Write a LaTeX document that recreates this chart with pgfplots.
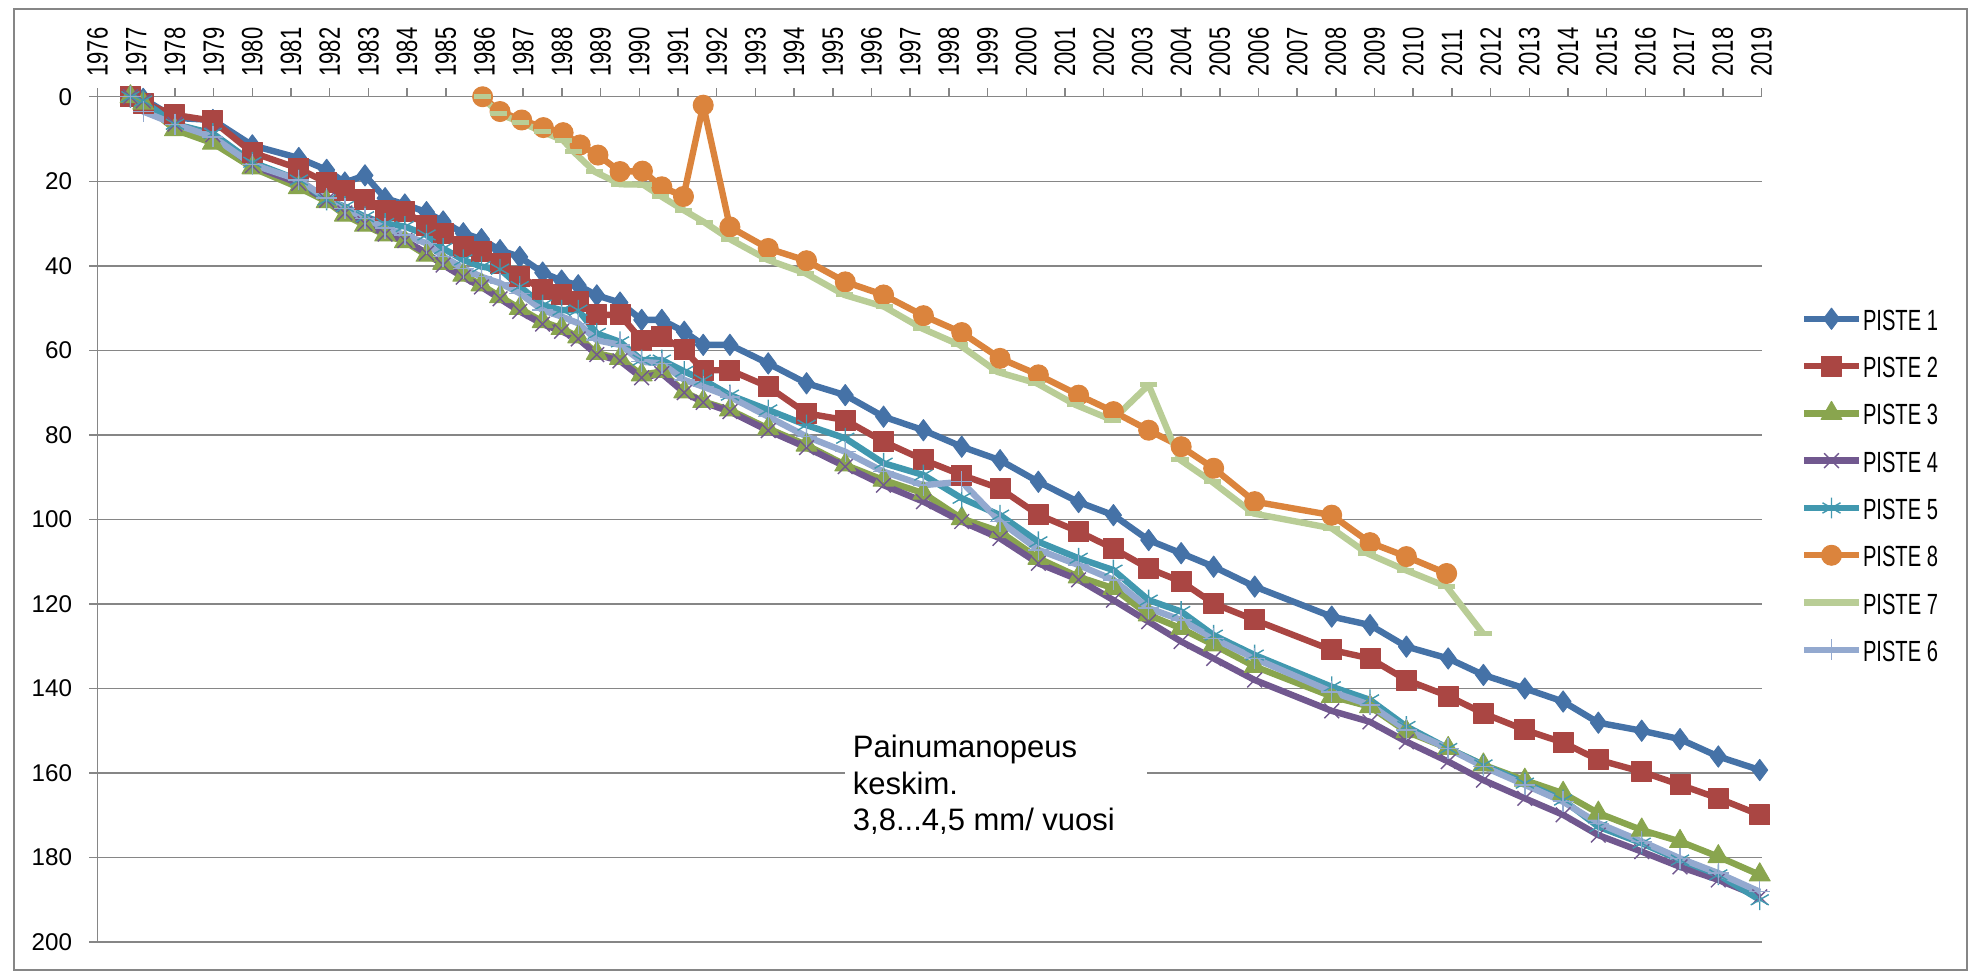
\documentclass[border=0pt]{standalone}
\usepackage{fontspec}
\setmainfont{Liberation Sans}
\newfontfamily\narrowfont{Liberation Sans}[FakeStretch=0.75]
\newfontfamily\legfont{Liberation Sans}[FakeStretch=0.69]
\usepackage{pgfplots}
\usepackage{pgfplotstable}
\pgfplotsset{compat=1.18}
\definecolor{cA}{HTML}{4572A7}
\definecolor{cB}{HTML}{AA4643}
\definecolor{cC}{HTML}{89A54E}
\definecolor{cD}{HTML}{71588F}
\definecolor{cE}{HTML}{4198AF}
\definecolor{cH}{HTML}{DB843D}
\definecolor{cG}{HTML}{B9CD96}
\definecolor{cF}{HTML}{93A9CF}
\definecolor{gridgray}{HTML}{868686}

\pgfplotstableread{
x y
1976.85 0
1977.18 0.5
1978.00 5
1978.98 5.5
1980.00 11.5
1981.20 14.5
1981.92 17.3
1982.39 20.3
1982.91 18.6
1983.43 24
1983.94 25.5
1984.50 27.3
1984.93 29.5
1985.45 32.3
1985.92 33.7
1986.40 36.3
1986.91 37.9
1987.50 41.6
1987.99 43.5
1988.42 44.6
1988.90 47
1989.50 48.7
1990.06 52.8
1990.58 52.8
1991.16 55.6
1991.65 58.7
1992.34 58.7
1993.33 63.1
1994.32 67.8
1995.32 70.6
1996.31 75.7
1997.34 78.9
1998.33 82.8
1999.32 86.0
2000.31 91.1
2001.35 95.9
2002.25 99.0
2003.16 104.9
2004.00 108.0
2004.84 111.2
2005.90 115.9
2007.89 123.0
2008.88 125.0
2009.82 130.1
2010.90 132.9
2011.81 136.8
2012.88 140.0
2013.87 143.1
2014.78 148.1
2015.90 150.0
2016.89 152.0
2017.88 156.1
2018.95 159.3
}\pisteA

\pgfplotstableread{
x y
1976.85 0
1977.18 1.5
1978.00 4.3
1978.98 5.7
1980.00 13.2
1981.20 17
1981.92 20.3
1982.39 22.3
1982.91 24.4
1983.43 27
1983.94 27.2
1984.50 30.4
1984.93 32.3
1985.45 35.5
1985.92 36.7
1986.40 39.4
1986.91 42.6
1987.50 45.5
1987.99 46.9
1988.42 48.5
1988.90 51.6
1989.50 51.6
1990.06 57.6
1990.58 56.8
1991.16 59.9
1991.65 64.7
1992.34 64.7
1993.33 68.6
1994.32 74.9
1995.32 76.5
1996.31 81.6
1997.34 85.9
1998.33 89.5
1999.32 92.7
2000.31 98.9
2001.35 102.9
2002.25 106.9
2003.16 111.6
2004.00 114.7
2004.84 119.9
2005.90 123.8
2007.89 130.9
2008.88 132.9
2009.82 138.0
2010.90 141.8
2011.81 145.9
2012.88 149.8
2013.87 152.8
2014.78 156.9
2015.90 159.7
2016.89 162.8
2017.88 166.0
2018.95 169.9
}\pisteB

\pgfplotstableread{
x y
1976.85 0
1977.18 1.5
1978.00 7.8
1978.98 11
1980.00 16.8
1981.20 21.5
1981.92 24.8
1982.39 28
1982.91 30.4
1983.43 32.7
1983.94 34.3
1984.50 37.5
1984.93 39.4
1985.45 42.2
1985.92 44.5
1986.40 47.3
1986.91 50.1
1987.50 53.2
1987.99 54.8
1988.42 56.8
1988.90 60.7
1989.50 61.9
1990.06 65.8
1990.58 65.0
1991.16 69.8
1991.65 72.1
1992.34 74.1
1993.33 78.5
1994.32 82.4
1995.32 87.1
1996.31 90.7
1997.34 93.8
1998.33 99.8
1999.32 102.9
2000.31 109.2
2001.35 113.6
2002.25 116.3
2003.16 122.6
2004.00 125.8
2004.84 129.7
2005.90 134.8
2007.89 141.9
2008.88 144.3
2009.82 150.2
2010.90 154.2
2011.81 158.1
2012.88 161.7
2013.87 164.8
2014.78 169.5
2015.90 173.5
2016.89 176.2
2017.88 179.8
2018.95 184.1
}\pisteC

\pgfplotstableread{
x y
1976.85 0
1977.18 1
1978.00 6.5
1978.98 9
1980.00 16.3
1981.20 20.5
1981.92 24.5
1982.39 27.5
1982.91 30
1983.43 32.5
1983.94 34
1984.50 37
1984.93 39.8
1985.45 42.7
1985.92 45
1986.40 47.8
1986.91 50.8
1987.50 53.8
1987.99 55.5
1988.42 57.3
1988.90 61
1989.50 62.5
1990.06 66.5
1990.58 65.5
1991.16 70
1991.65 72.3
1992.34 74.5
1993.33 79
1994.32 83
1995.32 87.5
1996.31 91.9
1997.34 95.8
1998.33 100.5
1999.32 104.5
2000.31 110.4
2001.35 114.3
2002.25 119.1
2003.16 124.2
2004.00 128.9
2004.84 132.9
2005.90 138.0
2007.89 145.3
2008.88 147.9
2009.82 152.6
2010.90 157.3
2011.81 161.7
2012.88 166.0
2013.87 169.9
2014.78 174.7
2015.90 178.6
2016.89 182.2
2017.88 185.3
2018.95 189.3
}\pisteD

\pgfplotstableread{
x y
1976.85 0
1977.18 1
1978.00 6.5
1978.98 8.7
1980.00 15.5
1981.20 19.7
1981.92 24.4
1982.39 26.0
1982.91 28.4
1983.43 30.0
1983.94 30.7
1984.50 32.7
1984.93 35.9
1985.45 38.6
1985.92 40.2
1986.40 40.8
1986.91 44.9
1987.50 49.3
1987.99 50.5
1988.42 50.5
1988.90 56
1989.50 58
1990.06 62.3
1990.58 62.3
1991.16 65.0
1991.65 67.0
1992.34 70.6
1993.33 74.1
1994.32 77.7
1995.32 80.8
1996.31 86.7
1997.34 89.5
1998.33 95.0
1999.32 99.0
2000.31 105.3
2001.35 109.2
2002.25 112.0
2003.16 119.1
2004.00 121.8
2004.84 127.4
2005.90 132.1
2007.89 139.6
2008.88 142.7
2009.82 149.0
2010.90 154.2
2011.81 158.1
2012.88 162.4
2013.87 166.4
2014.78 172.7
2015.90 176.6
2016.89 180.6
2017.88 184.1
2018.95 190.0
}\pisteE

\pgfplotstableread{
x y
1976.85 0
1977.18 3.5
1978.00 6.5
1978.98 9.5
1980.00 16
1981.20 19.7
1981.92 24.0
1982.39 26.4
1982.91 28.8
1983.43 31.1
1983.94 32.7
1984.50 34.7
1984.93 37.8
1985.45 40.6
1985.92 42.6
1986.40 44.1
1986.91 46.5
1987.50 50.5
1987.99 52.0
1988.42 53.6
1988.90 57.6
1989.50 58.7
1990.06 62.7
1990.58 63.1
1991.16 67.0
1991.65 68.6
1992.34 71.0
1993.33 75.7
1994.32 80.4
1995.32 84.0
1996.31 88.7
1997.34 91.9
1998.33 91.1
1999.32 100.5
2000.31 107.2
2001.35 110.8
2002.25 114.3
2003.16 121.0
2004.00 123.8
2004.84 128.2
2005.90 132.9
2007.89 140.8
2008.88 143.9
2009.82 149.8
2010.90 154.2
2011.81 158.5
2012.88 162.8
2013.87 166.8
2014.78 171.9
2015.90 176.2
2016.89 180.2
2017.88 183.7
2018.95 188.1
}\pisteF

\pgfplotstableread{
x y
1985.95 0
1986.35 4
1986.93 6
1987.50 8.3
1988.03 10.3
1988.30 13
1988.84 17.7
1989.50 20.7
1990.10 20.8
1990.55 23.5
1991.14 26.8
1991.68 29.7
1992.34 33.7
1993.32 38.6
1994.30 41.8
1995.30 46.9
1996.33 49.7
1997.30 54.8
1998.27 58.7
1999.25 65.1
2000.27 67.8
2001.27 72.9
2002.22 76.5
2003.16 68.2
2003.97 85.9
2004.80 91.1
2005.87 98.6
2007.89 102.1
2008.80 108.0
2009.80 112.0
2010.86 115.9
2011.80 127.0
}\pisteG

\pgfplotstableread{
x y
1985.95 0
1986.40 3.5
1986.96 5.5
1987.52 7.3
1988.03 8.5
1988.47 11.4
1988.93 13.8
1989.50 17.7
1990.08 17.6
1990.58 21.3
1991.14 23.6
1991.65 2.0
1992.34 30.8
1993.33 35.9
1994.32 38.8
1995.32 43.8
1996.31 46.9
1997.34 51.8
1998.33 55.8
1999.32 61.9
2000.31 65.8
2001.35 70.6
2002.25 74.5
2003.16 78.9
2004.00 82.8
2004.84 87.9
2005.90 95.8
2007.89 99.0
2008.88 105.5
2009.82 108.8
2010.86 112.8
}\pisteH

\begin{document}
\begin{tikzpicture}[x=1pt,y=1pt]
\useasboundingbox (0,0) rectangle (985,486);
\draw[gridgray, line width=0.75pt] (7,1) rectangle (983.5,481.5);
\begin{axis}[
  at={(464.8pt,226.3pt)}, anchor=center,
  width=832.05pt, height=422.65pt, scale only axis,
  xmin=1976, xmax=2019, ymin=0, ymax=200,
  y dir=reverse,
  clip=false,
  axis x line*=top, axis y line*=left,
  axis line style={gridgray, line width=0.75pt, -},
  x axis line style={-}, y axis line style={-},
  xtick={1976,...,2019}, ytick={0,20,...,200},
  minor tick num=0,
  tick align=outside, major tick length=4.25pt,
  tick style={gridgray, line width=0.75pt},
  ymajorgrids, grid style={gridgray, line width=0.75pt},
  /pgf/number format/assume math mode=true,
  /pgf/number format/1000 sep={},
  xticklabel style={font=\narrowfont\fontsize{14.7}{14.7}\selectfont, rotate=90, anchor=west, inner sep=0pt},
  xticklabel shift=5.6pt,
  yticklabel style={font=\fontsize{12.1}{12.1}\selectfont, anchor=east, inner sep=0pt},
  yticklabel shift=8.3pt,
  legend cell align=left,
  legend style={at={(1.02543,0.7596)}, anchor=north west, draw=none, fill=none,
    inner sep=0pt, outer sep=0pt, row sep=8.45pt, column sep=2pt,
    font=\legfont\fontsize{14.6}{14.6}\selectfont,
    nodes={inner sep=0pt, text height=10.4pt, text depth=0pt}},
  legend image code/.code={
    \path[draw=none, fill=none] (0pt,0pt) rectangle (27.5pt,10pt);
    \draw[overlay, mark repeat=2, mark phase=2, #1] plot coordinates {(0pt,0.6pt) (13.75pt,0.6pt) (27.5pt,0.6pt)};
  },
  every axis plot/.append style={line width=3.2pt, line join=round},
]
\addplot[color=cA, mark=diamond*, mark size=5.3pt, mark options={line width=0.5pt, fill=cA}] table {\pisteA};
\addlegendentry{PISTE 1}
\addplot[color=cB, mark=square*, mark size=5pt, mark options={line width=0.5pt, fill=cB}] table {\pisteB};
\addlegendentry{PISTE 2}
\addplot[color=cC, mark=triangle*, mark size=6pt, mark options={line width=0.5pt, fill=cC}] table {\pisteC};
\addlegendentry{PISTE 3}
\addplot[color=cD, mark=x, mark size=5.2pt, mark options={line width=0.7pt}] table {\pisteD};
\addlegendentry{PISTE 4}
\addplot[color=cE, mark=asterisk, mark size=5.2pt, mark options={line width=0.7pt}] table {\pisteE};
\addlegendentry{PISTE 5}
\addplot[color=cH, mark=*, mark size=5pt, mark options={line width=0.5pt, fill=cH}] table {\pisteH};
\addlegendentry{PISTE 8}
\addplot[color=cG, mark=-, mark size=4.3pt, mark options={line width=2.5pt}] table {\pisteG};
\addlegendentry{PISTE 7}
\addplot[color=cF, mark=+, mark size=5.2pt, mark options={line width=0.7pt}] table {\pisteF};
\addlegendentry{PISTE 6}
\fill[white] (axis cs:1995.31,149.4) rectangle (axis cs:2003.12,176.5);
\node[anchor=north west, align=left, inner sep=0pt, font=\fontsize{15.5}{18.25}\selectfont] at (axis cs:1995.51,151.0) {Painumanopeus\\keskim.\\3,8...4,5 mm/ vuosi};
\end{axis}
\end{tikzpicture}
\end{document}
